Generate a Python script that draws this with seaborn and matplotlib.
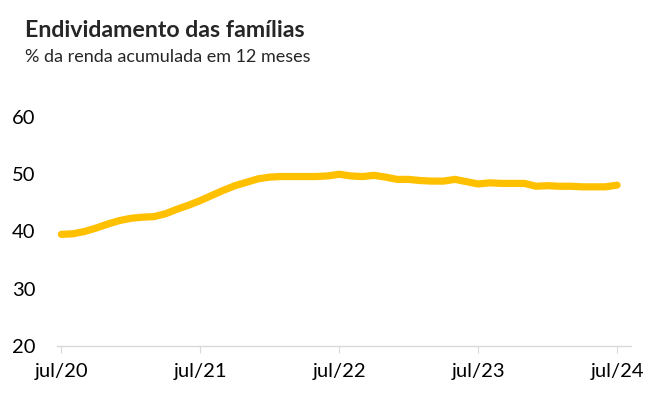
import matplotlib
matplotlib.use("Agg")
import matplotlib.pyplot as plt
import seaborn as sns
import pandas as pd

# monthly values, jul/20 .. jul/24
months = list(range(49))
debt = [39.5, 39.6, 40.0, 40.6, 41.3, 41.9, 42.3, 42.5, 42.6, 43.1, 43.9, 44.6,
        45.4, 46.3, 47.2, 48.0, 48.6, 49.2, 49.5, 49.6, 49.6, 49.6, 49.6, 49.7,
        50.0, 49.7, 49.6, 49.8, 49.5, 49.1, 49.1, 48.9, 48.8, 48.8, 49.1, 48.7,
        48.3, 48.5, 48.4, 48.4, 48.4, 47.9, 48.0, 47.9, 47.9, 47.8, 47.8, 47.8,
        48.1]
tick_pos = [0, 12, 24, 36, 48]
tick_labels = ["jul/20", "jul/21", "jul/22", "jul/23", "jul/24"]

sns.set_style("white")
plt.rcParams["font.family"] = ["Lato", "DejaVu Sans"]

df = pd.DataFrame({"mes": months, "divida": debt})

fig = plt.figure(figsize=(6.6, 4.09), dpi=100)
ax = fig.add_axes([0.086, 0.154, 0.87, 0.56])
sns.lineplot(data=df, x="mes", y="divida", color="#FFC000", linewidth=5.2,
             solid_capstyle="round", ax=ax)

ax.set_xlim(-0.4, 49.2)
ax.set_ylim(20, 60)
ax.set_yticks([20, 30, 40, 50, 60])
ax.set_xticks(tick_pos)
ax.set_xticklabels(tick_labels)
ax.set_xlabel("")
ax.set_ylabel("")

for s in ["top", "right", "left"]:
    ax.spines[s].set_visible(False)
ax.spines["bottom"].set_color("#D9D9D9")
ax.spines["bottom"].set_linewidth(1)
ax.tick_params(axis="x", bottom=True, length=5, color="#D9D9D9", pad=7,
               labelsize=14.5, labelcolor="black")
ax.tick_params(axis="y", left=False, pad=12, labelsize=14.5, labelcolor="black")

fig.text(0.038, 0.91, "Endividamento das famílias", fontsize=16.7, fontweight="bold")
fig.text(0.038, 0.848, "% da renda acumulada em 12 meses", fontsize=13)

fig.savefig("out.png", dpi=100, facecolor="white")
